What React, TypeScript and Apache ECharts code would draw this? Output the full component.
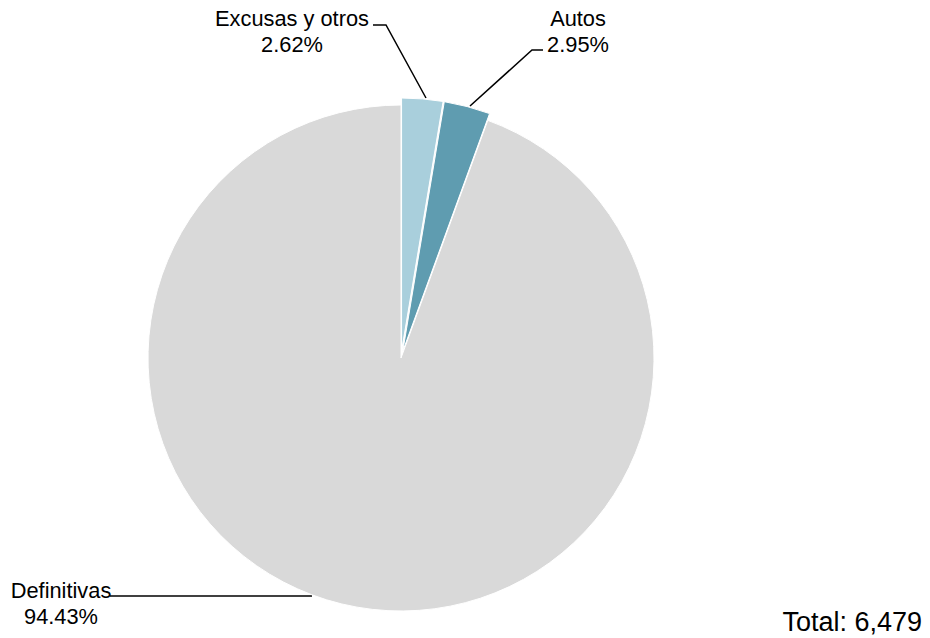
import React, { useEffect, useRef } from "react";
import * as echarts from "echarts";

const categories = ["Excusas y otros", "Autos", "Definitivas"];
const values = [170, 191, 6118];
const colors = ["#a9cfdc", "#5f9cb0", "#d9d9d9"];
const exploded = [true, true, false];
const totalLabel = "Total: 6,479";

export default function App() {
  const ref = useRef<HTMLDivElement>(null);
  useEffect(() => {
    if (!ref.current) return;
    const chart = echarts.init(ref.current, null, { renderer: "svg" });
    const labelPos = [
      { x: 292, y: 5, pts: [[373, 25], [386, 25], [426, 98]] },
      { x: 578, y: 5, pts: [[470, 106], [532, 50], [543, 50]] },
      { x: 61, y: 577, pts: [[110, 596], [312, 596]] },
    ];
    const font = "Liberation Sans, Arial, sans-serif";
    chart.setOption({
      animation: false,
      backgroundColor: "#ffffff",
      textStyle: { fontFamily: font },
      series: [
        {
          type: "pie",
          center: [401, 358],
          radius: 253,
          startAngle: 90,
          clockwise: true,
          selectedMode: "multiple",
          selectedOffset: 7,
          silent: true,
          itemStyle: { borderColor: "#ffffff", borderWidth: 1 },
          label: { show: false },
          labelLine: { show: false },
          emphasis: { disabled: true },
          data: categories.map((c, i) => ({
            name: c,
            value: values[i],
            selected: exploded[i],
            itemStyle: { color: colors[i] },
          })),
        },
        {
          type: "pie",
          center: [401, 358],
          radius: 253,
          startAngle: 90,
          clockwise: true,
          silent: true,
          avoidLabelOverlap: false,
          itemStyle: { color: "rgba(0,0,0,0)", borderWidth: 0 },
          label: {
            show: true,
            formatter: "{b}\n{d}%",
            fontSize: 21.8,
            lineHeight: 26,
            color: "#000000",
            fontFamily: font,
            align: "center",
          },
          labelLine: {
            show: true,
            lineStyle: { color: "#000000", width: 1.5 },
          },
          labelLayout: (params: any) => {
            const p = labelPos[params.dataIndex];
            return {
              x: p.x,
              y: p.y,
              align: "center",
              verticalAlign: "top",
              labelLinePoints: p.pts,
            };
          },
          emphasis: { disabled: true },
          data: categories.map((c, i) => ({ name: c, value: values[i] })),
        },
      ],
      graphic: [
        {
          type: "text",
          right: 8,
          top: 608,
          style: {
            text: totalLabel,
            fontSize: 27,
            fill: "#000000",
            fontFamily: font,
          },
        },
      ],
    });
    return () => chart.dispose();
  }, []);
  return (
    <div
      ref={ref}
      style={{ position: "fixed", left: 0, top: 0, width: 930, height: 638 }}
    />
  );
}
